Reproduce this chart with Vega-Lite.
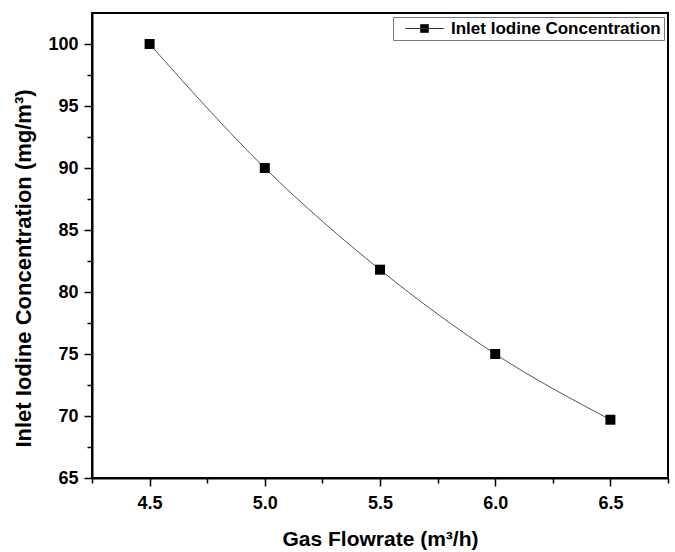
{
  "$schema": "https://vega.github.io/schema/vega-lite/v6.json",
  "width": 576,
  "height": 465,
  "autosize": {"type": "none"},
  "padding": {"left": 92, "top": 13, "right": 7, "bottom": 74},
  "background": "white",
  "config": {
    "view": {"stroke": "black", "strokeWidth": 2},
    "font": "Liberation Sans",
    "axis": {
      "domainColor": "black", "domainWidth": 2, "tickColor": "black", "tickWidth": 1.5,
      "grid": false, "labelFont": "Liberation Sans", "labelFontWeight": "bold", "labelFontSize": 18,
      "labelColor": "black", "titleFont": "Liberation Sans", "titleFontWeight": "bold", "titleColor": "black"
    }
  },
  "data": {"values": [
    {"flow": 4.5, "conc": 100},
    {"flow": 5.0, "conc": 90},
    {"flow": 5.5, "conc": 81.8},
    {"flow": 6.0, "conc": 75},
    {"flow": 6.5, "conc": 69.7}
  ]},
  "encoding": {
    "x": {"field": "flow", "type": "quantitative", "scale": {"domain": [4.25, 6.75], "nice": false, "zero": false},
      "axis": {"title": "Gas Flowrate (m³/h)", "titleFontSize": 21, "values": [4.25, 4.5, 4.75, 5.0, 5.25, 5.5, 5.75, 6.0, 6.25, 6.5, 6.75],
        "labelExpr": "(round(datum.value*4) % 2 == 0) ? format(datum.value, '.1f') : ''",
        "tickSize": {"condition": {"test": "round(datum.value*4) % 2 == 0", "value": 8}, "value": 5},
        "labelPadding": 8, "titlePadding": 16}},
    "y": {"field": "conc", "type": "quantitative", "scale": {"domain": [65, 102.5], "nice": false, "zero": false},
      "axis": {"title": "Inlet Iodine Concentration (mg/m³)", "titleFontSize": 22, "titleY": 255, "values": [65, 67.5, 70, 72.5, 75, 77.5, 80, 82.5, 85, 87.5, 90, 92.5, 95, 97.5, 100],
        "labelExpr": "(round(datum.value*2) % 2 == 0) ? format(datum.value, 'd') : ''",
        "tickSize": {"condition": {"test": "round(datum.value*2) % 2 == 0", "value": 8}, "value": 5},
        "labelPadding": 6, "titlePadding": 12}}
  },
  "layer": [
    {"mark": {"type": "line", "interpolate": "monotone", "color": "#555555", "strokeWidth": 1}},
    {"mark": {"type": "point", "shape": "square", "filled": true, "size": 100, "opacity": 1},
      "encoding": {"color": {"datum": "Inlet Iodine Concentration", "type": "nominal", "scale": {"range": ["black"]},
        "legend": {"title": null, "orient": "top-right", "offset": 4, "padding": 3, "strokeColor": "#777777",
          "symbolType": "M-2.4,0H2.4M-0.5,-0.5H0.5V0.5H-0.5Z", "symbolSize": 256, "symbolStrokeWidth": 1,
          "symbolStrokeColor": "#333333", "symbolFillColor": "black", "labelLimit": 400,
          "labelFont": "Liberation Sans", "labelFontWeight": "bold", "labelFontSize": 17, "labelColor": "black", "symbolOffset": 20, "labelOffset": 18}}}}
  ]
}
